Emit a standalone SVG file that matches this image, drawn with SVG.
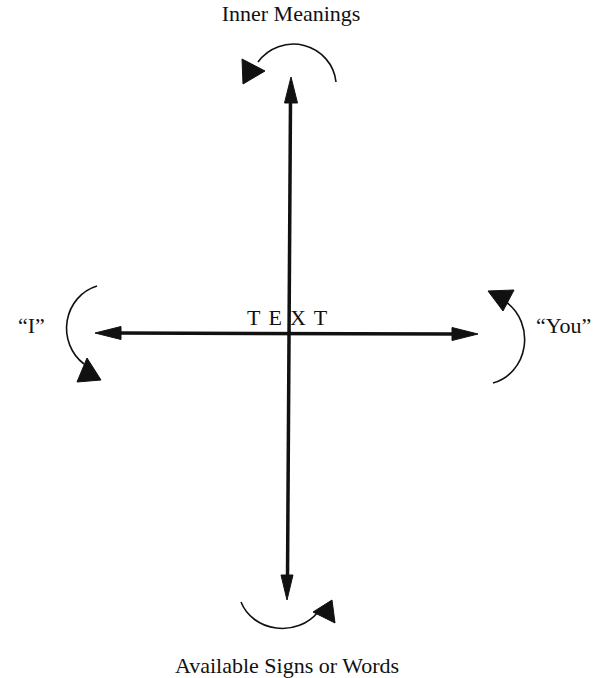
<svg xmlns="http://www.w3.org/2000/svg" width="602" height="678" viewBox="0 0 602 678">
  <style>
    .lbl { font-family: "Liberation Serif", "DejaVu Serif", serif; font-size: 22px; fill: #111; }
    .axis { stroke: #111; stroke-width: 3.5; fill: none; }
    .arc { stroke: #111; stroke-width: 1.6; fill: none; }
    .head { fill: #111; stroke: #111; stroke-width: 1; stroke-linejoin: round; }
  </style>
  <rect width="602" height="678" fill="#fff"/>

  <g id="connectors">
    <!-- vertical axis -->
    <line class="axis" x1="290.5" y1="100" x2="287.5" y2="578"/>
    <polygon class="head" points="291,77 284.5,103 297.5,103"/>
    <polygon class="head" points="287,600 281,575 293,575"/>
    <!-- horizontal axis -->
    <line class="axis" x1="118" y1="333" x2="456" y2="334"/>
    <polygon class="head" points="95,333 121,326.5 121,339.5"/>
    <polygon class="head" points="478,334 452,327.5 452,340.5"/>
    <!-- top curved arrow -->
    <path class="arc" d="M336,82 A43,42 0 0 0 258,62"/>
    <polygon class="head" points="242,59 265,71 243,84"/>
    <!-- left curved arrow -->
    <path class="arc" d="M97,286 A42,44 0 0 0 84,364"/>
    <polygon class="head" points="87,358 77,382 101,380"/>
    <!-- right curved arrow -->
    <path class="arc" d="M493,383 A42,45 0 0 0 506,302"/>
    <polygon class="head" points="488,291 514,290 503,311"/>
    <!-- bottom curved arrow -->
    <path class="arc" d="M241,602 A44,40 0 0 0 318,612"/>
    <polygon class="head" points="313,612 332,600 335,623"/>
  </g>

  <g id="node-inner-meanings">
    <text class="lbl" x="291" y="21" text-anchor="middle">Inner Meanings</text>
  </g>
  <g id="node-i">
    <text class="lbl" x="18" y="333">“I”</text>
  </g>
  <g id="node-you">
    <text class="lbl" x="536" y="333">“You”</text>
  </g>
  <g id="node-available">
    <text class="lbl" x="287" y="673" text-anchor="middle">Available Signs or Words</text>
  </g>
  <g id="node-text">
    <text class="lbl" x="247" y="325" style="letter-spacing:8px;">TEXT</text>
  </g>
</svg>
